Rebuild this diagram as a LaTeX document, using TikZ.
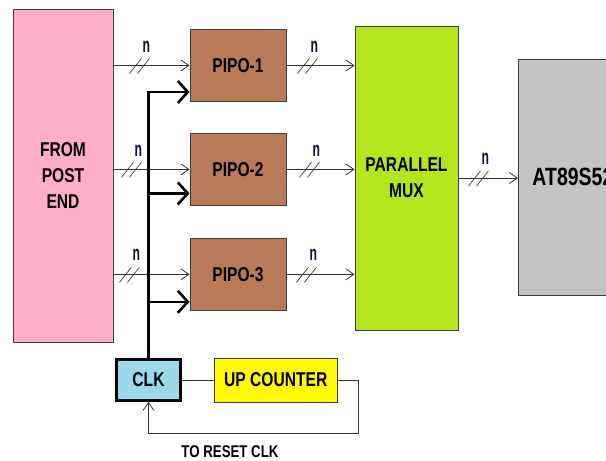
\documentclass[tikz,border=0pt]{standalone}
\usepackage{fontspec}
\usepackage{xcolor}
\usepackage{tikz}
\usetikzlibrary{arrows.meta, positioning, calc}
\newfontfamily\blockfont[FakeStretch=0.78]{Liberation Sans}
\newfontfamily\busfont[FakeStretch=0.58]{Liberation Sans}
\definecolor{Post_Pink}{RGB}{255,174,201}
\definecolor{Pipo_Brown}{RGB}{185,122,87}
\definecolor{Mux_Green}{RGB}{181,230,29}
\definecolor{Mcu_Gray}{RGB}{195,195,195}
\definecolor{Clk_Blue}{RGB}{153,217,234}
\definecolor{Cnt_Yellow}{RGB}{255,250,0}
\definecolor{Bus_Navy}{RGB}{15,15,55}

\tikzset{
    pics/nbus/.style={code={
        \draw[line width=0.7pt, black!75] (-11,8) -- (1,-7) (-3,8) -- (9,-7);
        \node[font=\busfont\bfseries\fontsize{21}{21}\selectfont, text=Bus_Navy, inner sep=0pt] (-n) at (6,-19) {n};
    }}
}

\begin{document}
\begin{tikzpicture}[
    x=1pt, y=-1pt,
    block/.style={rectangle, draw=black!75, line width=0.9pt, align=center, inner sep=0pt,
                  font=\blockfont\bfseries\fontsize{20}{26}\selectfont},
    pipo/.style={block, fill=Pipo_Brown, minimum width=96pt, minimum height=72pt},
    data/.style={-{Straight Barb[length=8pt,width=11pt]}, line width=0.8pt, draw=black!80},
    clkbus/.style={-{Straight Barb[length=10pt,width=22pt]}, line width=2.6pt},
    link/.style={line width=0.8pt, draw=black!80}
]
\useasboundingbox (0,0) rectangle (606,461);
\clip (0,0) rectangle (606,461);
\fill[white] (0,0) rectangle (606,461);

\node[block, fill=Post_Pink, minimum width=100pt, minimum height=333pt] (post) at (63,175.5) {FROM\\POST\\END};

\node[pipo] (pipo1) at (238,65.5) {PIPO-1};
\node[pipo, below=31pt of pipo1] (pipo2) {PIPO-2};
\node[pipo, below=32pt of pipo2] (pipo3) {PIPO-3};

\node[block, fill=Mux_Green, minimum width=103pt, minimum height=304pt] (mux) at (406.5,178) {PARALLEL\\MUX};

\node[block, fill=Mcu_Gray, text width=120pt, inner xsep=14pt, align=left, minimum height=236pt,
      anchor=west, font=\blockfont\bfseries\fontsize{25}{25}\selectfont] (mcu) at (518,177) {AT89S52};

\node[block, fill=Clk_Blue, draw=black, line width=2.6pt, minimum width=64pt, minimum height=41pt] (clk) at (148.5,380) {CLK};
\node[block, fill=Cnt_Yellow, minimum width=123pt, minimum height=44pt, right=32pt of clk] (upc) {UP COUNTER};

\node[font=\blockfont\bfseries\fontsize{17}{17}\selectfont, inner sep=0pt] (rsttext) at (230,452) {TO RESET CLK};

\draw[data] (post.east |- pipo1.west) -- (pipo1.west);
\draw[data] (post.east |- pipo2.west) -- (pipo2.west);
\draw[data] (post.east |- pipo3.west) -- (pipo3.west);
\draw[data] (pipo1.east) -- (mux.west |- pipo1.east);
\draw[data] (pipo2.east) -- (mux.west |- pipo2.east);
\draw[data] (pipo3.east) -- (mux.west |- pipo3.east);
\draw[data] (mux.east) -- (mux.east -| mcu.west);

\pic (nb1) at ($(post.east |- pipo1.west)+(27,0)$) {nbus};
\pic (nb2) at ($(post.east |- pipo2.west)+(19,0)$) {nbus};
\pic (nb3) at ($(post.east |- pipo3.west)+(17,0)$) {nbus};
\pic (nb4) at ($(pipo1.east)+(22,0)$) {nbus};
\pic (nb5) at ($(pipo2.east)+(24,0)$) {nbus};
\pic (nb6) at ($(pipo3.east)+(21,0)$) {nbus};
\pic (nb7) at ($(mux.east)+(21,0)$) {nbus};

\coordinate (ck1) at ($(pipo1.west)+(0,26.5)$);
\coordinate (ck2) at ($(pipo2.west)+(0,24)$);
\coordinate (ck3) at ($(pipo3.west)+(0,27.5)$);
\draw[clkbus] (clk.north) |- (ck1);
\draw[clkbus] (clk.north |- ck2) -- (ck2);
\draw[clkbus] (clk.north |- ck3) -- (ck3);

\draw[link] (clk.east) -- (upc.west);
\coordinate (rst) at ($(upc.east)+(21,53)$);
\draw[data] (upc.east) -| (rst) -| (clk.south);

\end{tikzpicture}
\end{document}
